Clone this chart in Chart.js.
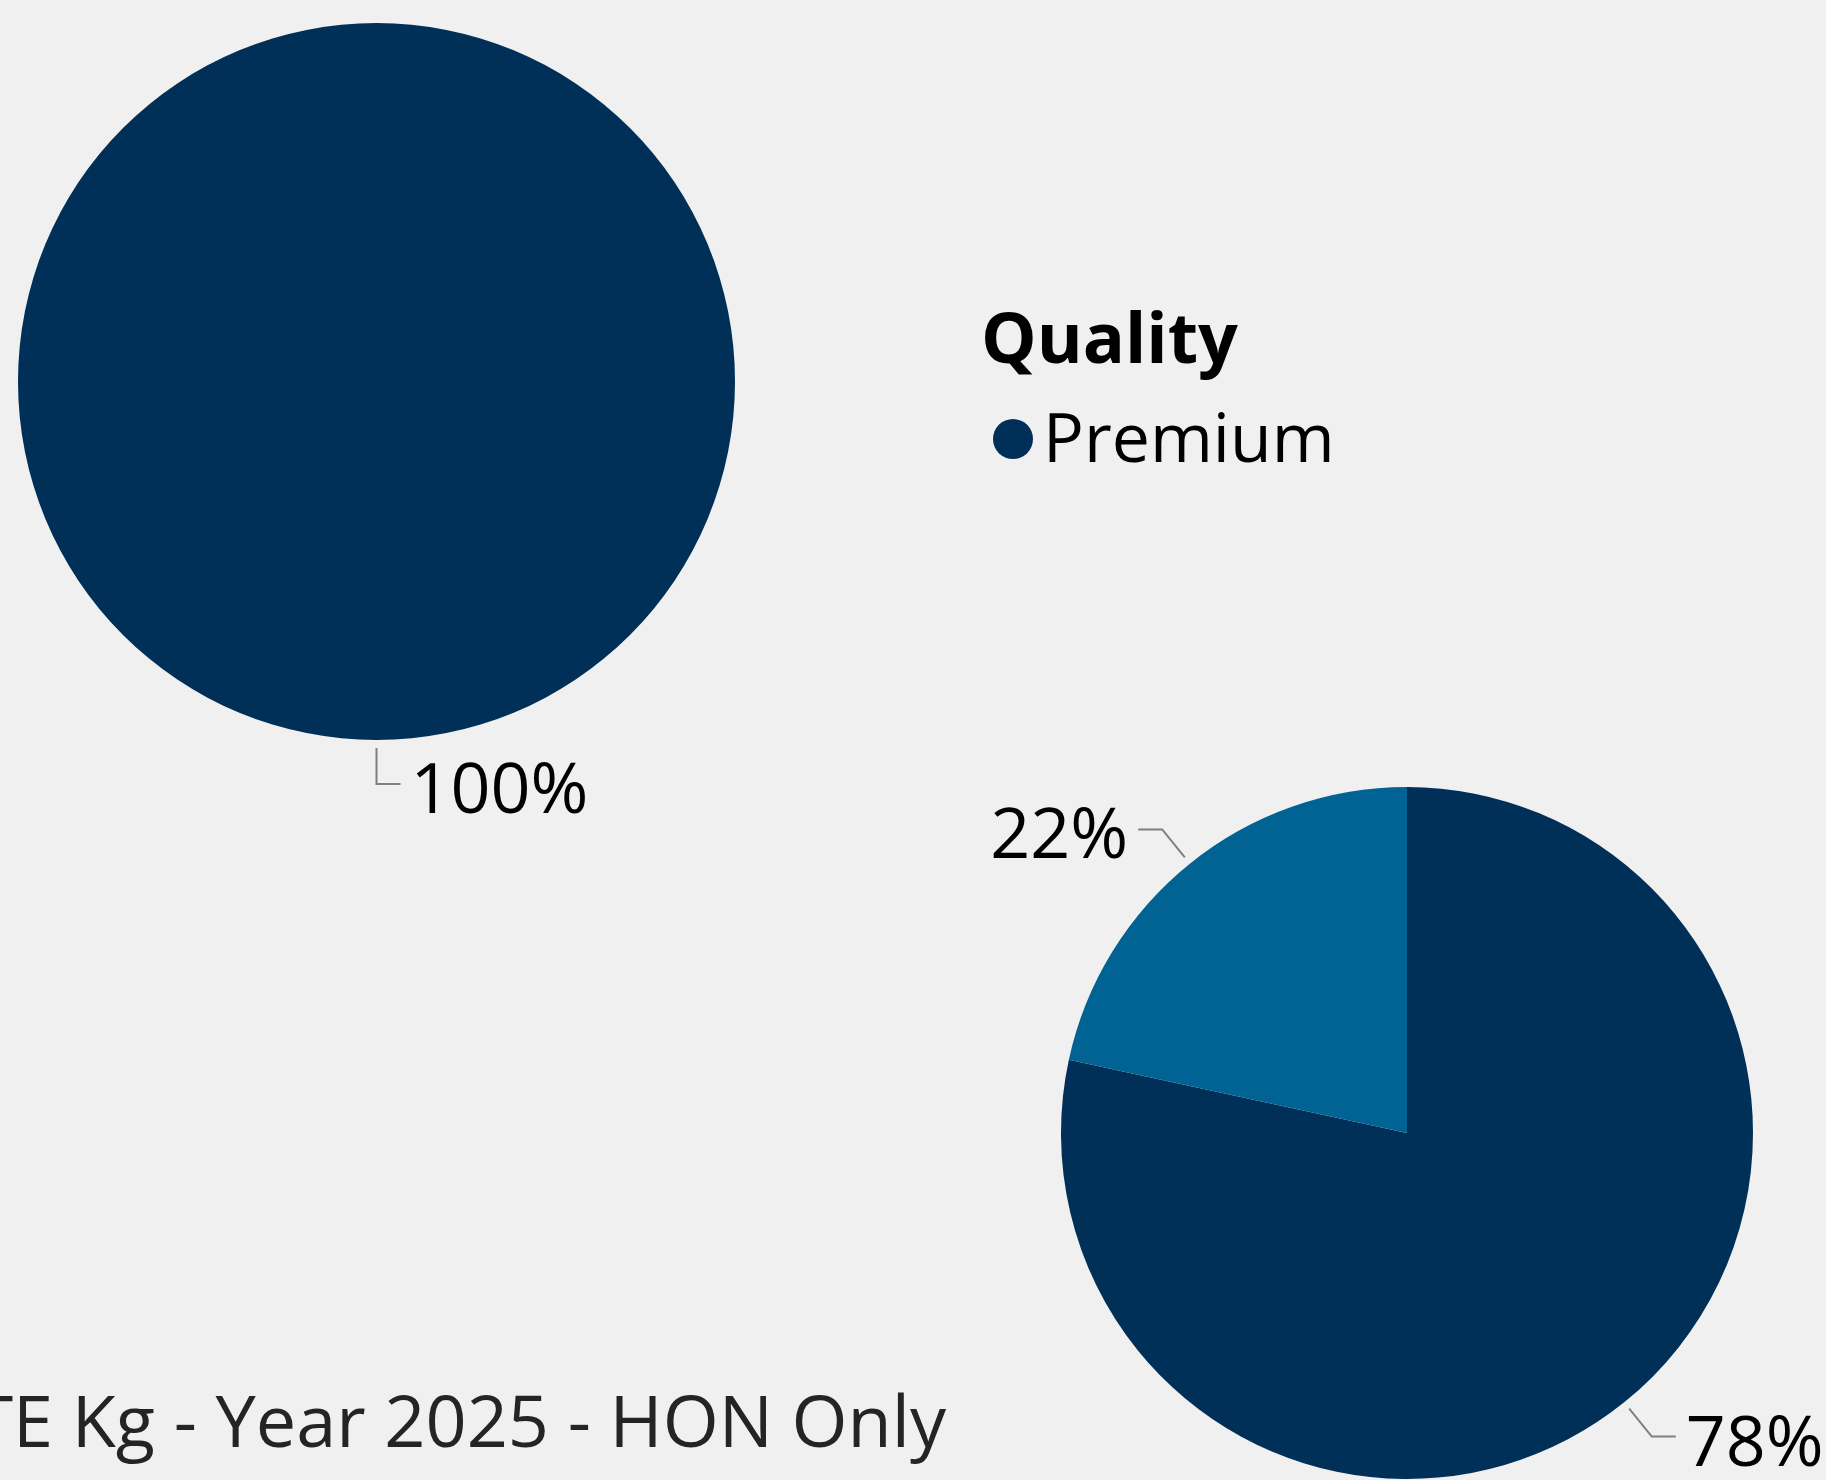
<!DOCTYPE html>
<html>
<head>
<meta charset="utf-8">
<script src="https://cdn.jsdelivr.net/npm/chart.js@4/dist/chart.umd.min.js"></script>
<style>
    html, body {
        margin: 0;
        padding: 0;
        width: 1826px;
        height: 1480px;
        overflow: hidden;
        background: #f0f0f0;
        font-family: 'Open Sans', 'Noto Sans', sans-serif;
    }
    canvas {
        position: absolute;
        left: 0;
        top: 0;
    }
    #legend {
        position: absolute;
        left: 981px;
        top: 291px;
        color: #000;
    }
    #legend .title {
        font-weight: bold;
        font-size: 70px;
        line-height: 90px;
    }
    #legend .item {
        display: flex;
        align-items: center;
        font-size: 68px;
        line-height: 84px;
        margin-top: 13px;
    }
    #legend .dot {
        width: 40px;
        height: 40px;
        border-radius: 50%;
        margin: 6px 10px 0 12px;
    }
    #footer {
        position: absolute;
        right: 880px;
        top: 1370px;
        white-space: nowrap;
        font-size: 72px;
        color: #252423;
    }
</style>
</head>
<body>
<canvas id="topPie" width="1826" height="1480"></canvas>
<canvas id="bottomPie" width="1826" height="1480"></canvas>
<div id="legend"></div>
<div id="footer"></div>

<script>
// Data
const legendTitle = 'Quality';
const topCategories = ['Premium'];
const topValues = [100];
const bottomCategories = ['Premium', 'Standard'];
const bottomValues = [78.4, 21.6];
const sliceColors = ['#003057', '#006394'];
const footerText = 'WASTE Kg - Year 2025 - HON Only';

// Outside labels with elbow leader lines, drawn from the arc elements
const outsideLabels = {
    id: 'outsideLabels',
    afterDatasetsDraw(chart) {
        const ctx = chart.ctx;
        const meta = chart.getDatasetMeta(0);
        const values = chart.data.datasets[0].data;
        const total = values.reduce((a, b) => a + b, 0);
        meta.data.forEach((arc, i) => {
            const mid = (arc.startAngle + arc.endAngle) / 2;
            const cos = Math.cos(mid);
            const sin = Math.sin(mid);
            const r = arc.outerRadius;
            const sx = arc.x + (r + 8) * cos;
            const sy = arc.y + (r + 8) * sin;
            const ex = arc.x + (r + 44) * cos;
            const ey = arc.y + (r + 44) * sin;
            const side = cos >= -1e-6 ? 1 : -1;
            const hx = ex + side * 24;

            ctx.save();
            ctx.strokeStyle = '#7f7f7f';
            ctx.lineWidth = 2;
            ctx.beginPath();
            ctx.moveTo(sx, sy);
            ctx.lineTo(ex, ey);
            ctx.lineTo(hx, ey);
            ctx.stroke();

            ctx.fillStyle = '#000';
            ctx.font = "70px 'Open Sans'";
            ctx.textAlign = side > 0 ? 'left' : 'right';
            ctx.textBaseline = 'alphabetic';
            const pct = Math.round(values[i] / total * 100) + '%';
            ctx.fillText(pct, hx + side * 10, ey + 29);
            ctx.restore();
        });
    }
};

function makePie(id, labels, values, padding) {
    return new Chart(document.getElementById(id).getContext('2d'), {
        type: 'pie',
        data: {
            labels: labels,
            datasets: [{
                data: values,
                backgroundColor: sliceColors.slice(0, values.length),
                borderWidth: 0,
                hoverOffset: 0
            }]
        },
        options: {
            responsive: false,
            devicePixelRatio: 1,
            animation: false,
            layout: { padding: padding },
            plugins: {
                legend: { display: false },
                tooltip: { enabled: false }
            }
        },
        plugins: [outsideLabels]
    });
}

const topChart = makePie('topPie', topCategories, topValues,
    { left: 18, top: 23, right: 1091, bottom: 740 });
const bottomChart = makePie('bottomPie', bottomCategories, bottomValues,
    { left: 1061, top: 787, right: 73, bottom: 1 });

// Legend
const legend = document.getElementById('legend');
let html = '<div class="title">' + legendTitle + '</div>';
topCategories.forEach((c, i) => {
    html += '<div class="item"><span class="dot" style="background:' + sliceColors[i] + '"></span>' + c + '</div>';
});
legend.innerHTML = html;

document.getElementById('footer').textContent = footerText;
</script>
</body>
</html>
